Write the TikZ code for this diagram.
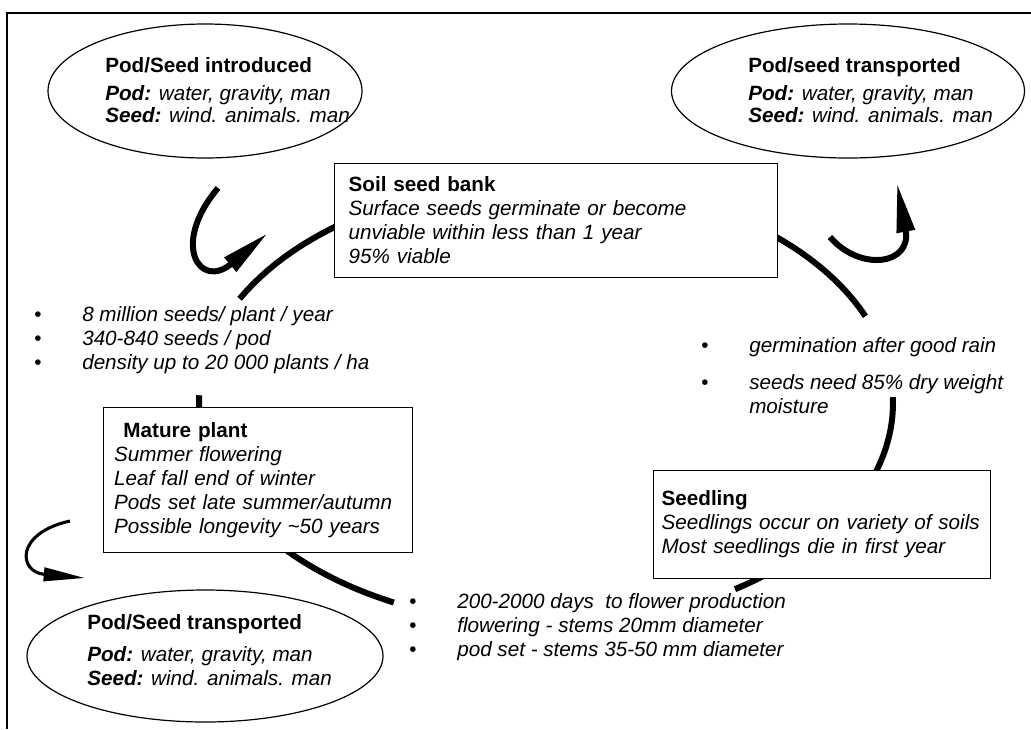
\documentclass[tikz,border=0pt]{standalone}
\usepackage{fontspec}
\setmainfont{Liberation Sans}
\usetikzlibrary{arrows.meta,shapes.geometric}
\begin{document}
\begin{tikzpicture}[x=0.75pt,y=-0.75pt,
  every node/.style={font=\fontsize{15.5}{18}\selectfont},
  pod/.style={draw,ellipse,line width=0.9pt,inner sep=0pt},
  infobox/.style={draw,rectangle,line width=0.9pt,fill=white,anchor=north west,align=left,inner ysep=0pt},
  txt/.style={anchor=north west,inner sep=0pt,align=left},
  cyc/.style={line width=4.5pt},
  hook/.style={line width=4.5pt,-{Triangle[length=37pt,width=13pt]}},
  thinhook/.style={line width=2.3pt,-{Triangle[length=31pt,width=10pt]}},
  frame/.style={line width=0.9pt}
]
\useasboundingbox (0,0) rectangle (1031,729);
% frame
\coordinate (fbl) at (7,729);
\coordinate (ftl) at (7,13);
\coordinate (ftr) at (1031,13);
\draw[frame] (fbl) -- (ftl) -- (ftr);

% life cycle ring (segments)
\draw[cyc] plot[domain=208:337,samples=60] ({546+347*cos(\x)},{403+222*sin(\x)});
\draw[cyc] plot[domain=-1.5:25,samples=20] ({546+347*cos(\x)},{403+222*sin(\x)});
\draw[cyc] plot[domain=116:182,samples=40] ({546+347*cos(\x)},{403+222*sin(\x)});
\draw[cyc] plot[domain=48:57,samples=20] ({546+347*cos(\x)},{403+222*sin(\x)});

% boxes
\node[infobox,minimum width=332.25pt,minimum height=85.5pt,text width=311.25pt,inner xsep=10.5pt] (soil) at (334,163)
  {\textbf{Soil seed bank}\\
   \textit{Surface seeds germinate or become}\\
   \textit{unviable within less than 1 year}\\
   \textit{95\% viable}};
\node[infobox,minimum width=231.75pt,minimum height=108.75pt,text width=216pt,inner xsep=7.875pt] (mature) at (103,407)
  {\hspace*{7pt}\textbf{Mature plant}\\
   \textit{Summer flowering}\\
   \textit{Leaf fall end of winter}\\
   \textit{Pods set late summer/autumn}\\
   \textit{Possible longevity \textasciitilde50 years}};
\node[infobox,minimum width=252.75pt,minimum height=81pt,text width=240.75pt,inner xsep=6pt] (seedling) at (653,470)
  {\textbf{Seedling}\\
   \textit{Seedlings occur on variety of soils}\\
   \textit{Most seedlings die in first year}};

% ellipses
\node[pod,minimum width=235.5pt,minimum height=100.5pt] (e1) at (205,91) {};
\node[pod,minimum width=264.75pt,minimum height=100.5pt] (e2) at (848,91) {};
\node[pod,minimum width=267pt,minimum height=99pt] (e3) at (205,656) {};

\node[txt] (t1) at (105,57)
  {\textbf{Pod/Seed introduced}\\[3pt]
   \textbf{\textit{Pod:}} \textit{water, gravity, man}\\[-1pt]
   \textbf{\textit{Seed:}} \textit{wind. animals. man}};
\node[txt] (t2) at (748,57)
  {\textbf{Pod/seed transported}\\[3pt]
   \textbf{\textit{Pod:}} \textit{water, gravity, man}\\[-1pt]
   \textbf{\textit{Seed:}} \textit{wind. animals. man}};
\node[txt] (t3) at (87,614)
  {\textbf{Pod/Seed transported}\\[6pt]
   \textbf{\textit{Pod:}} \textit{water, gravity, man}\\
   \textbf{\textit{Seed:}} \textit{wind. animals. man}};

% bullet lists
\node[txt] (lb) at (34,306)
  {\makebox[36pt][l]{•}\textit{8 million seeds/ plant / year}\\
   \makebox[36pt][l]{•}\textit{340-840 seeds / pod}\\
   \makebox[36pt][l]{•}\textit{density up to 20 000 plants / ha}};
\node[txt] (rb) at (701,337)
  {\makebox[36pt][l]{•}\textit{germination after good rain}\\[10pt]
   \makebox[36pt][l]{•}\textit{seeds need 85\% dry weight}\\
   \makebox[36pt][l]{}\textit{moisture}};
\node[txt] (bb) at (409,593)
  {\makebox[36pt][l]{•}\textit{200-2000 days\ \ to flower production}\\
   \makebox[36pt][l]{•}\textit{flowering - stems 20mm diameter}\\
   \makebox[36pt][l]{•}\textit{pod set - stems 35-50 mm diameter}};

% dispersal arrows
\coordinate (a1s) at (218,188);
\coordinate (a1e) at (268,233);
\draw[hook] (a1s) .. controls (170,245) and (200,290) .. (a1e);
\coordinate (a2s) at (830,237);
\coordinate (a2e) at (897,183);
\draw[hook] (a2s) .. controls (860,272) and (912,265) .. (a2e);
\coordinate (a3s) at (70,521);
\coordinate (a3e) at (85,578);
\draw[thinhook] (a3s) .. controls (15,533) and (18,572) .. (a3e);
\end{tikzpicture}
\end{document}
